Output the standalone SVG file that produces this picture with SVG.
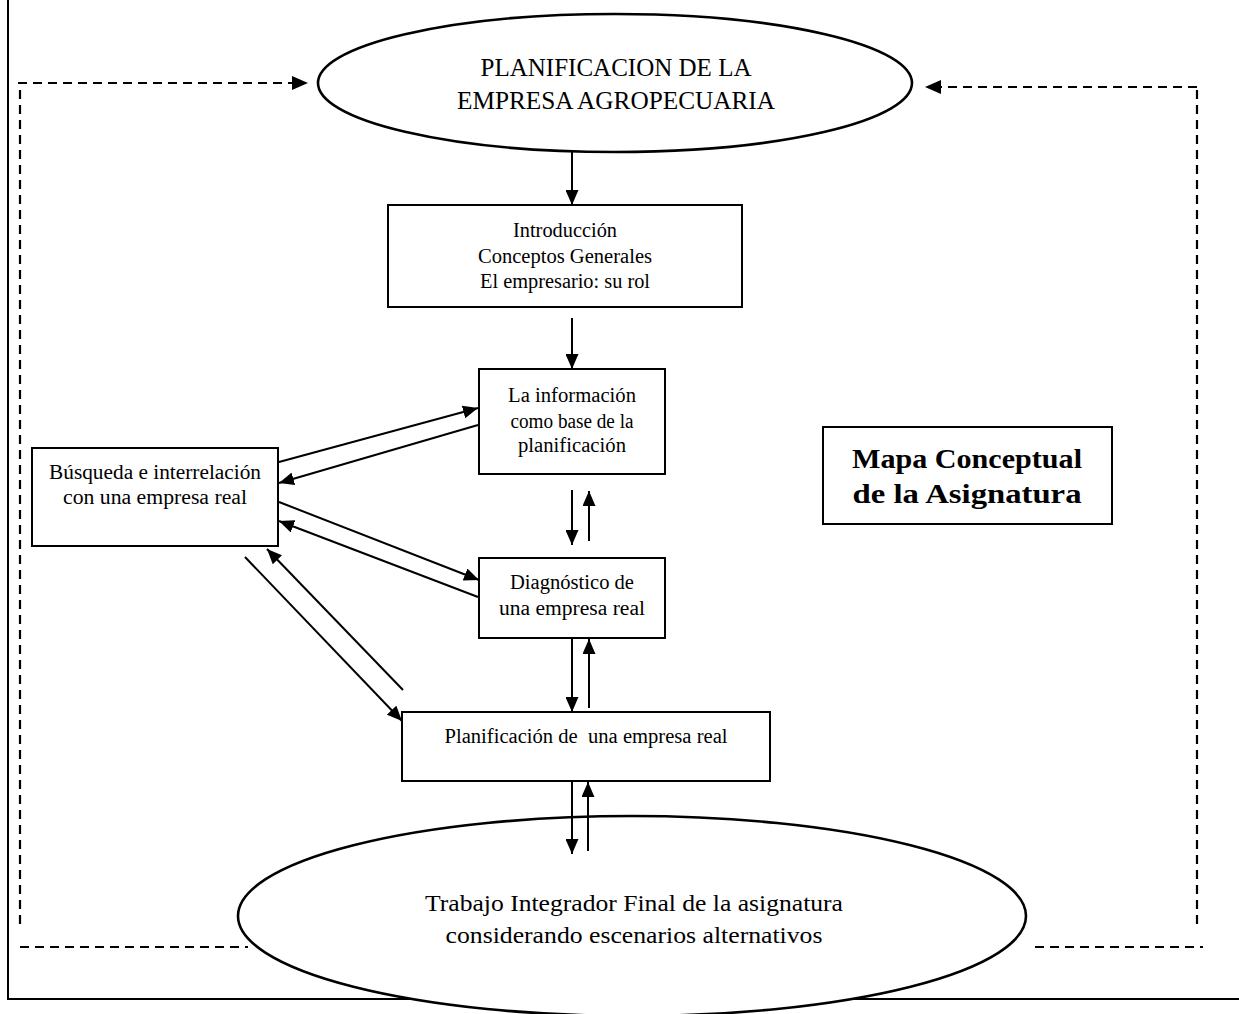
<svg xmlns="http://www.w3.org/2000/svg" width="1239" height="1014" viewBox="0 0 1239 1014">
<style>
.t{font-family:"Liberation Serif","Times New Roman",serif;fill:#000;text-anchor:middle;white-space:pre}
.s{font-size:20px}
.b{font-size:27px;font-weight:bold}
.e{font-size:25px}
.f{font-size:23px}
.box{fill:#fff;stroke:#000;stroke-width:2}
.ell{fill:#fff;stroke:#000;stroke-width:2.6}
.ln{stroke:#000;stroke-width:2;fill:none}
.ds{stroke:#000;stroke-width:2.2;fill:none;stroke-dasharray:9 6}
.fr{stroke:#000;stroke-width:2;fill:none}
</style>
<defs>
<marker id="ah" markerUnits="userSpaceOnUse" markerWidth="15" markerHeight="13" refX="15" refY="6.5" orient="auto">
<path d="M0,0 L15,6.5 L0,13 z" fill="#000"/>
</marker>
</defs>
<rect width="1239" height="1014" fill="#fff"/>
<g id="frame">
<path class="fr" d="M8,0 V999 H1239"/>
</g>
<g id="connectors">
<path class="ds" d="M18,83 H296" />
<path d="M292,76 L308,83 L292,90 z" fill="#000"/>
<path class="ds" d="M20,90 V928"/>
<path class="ds" d="M20,947 H248"/>
<path class="ds" d="M1197,87 H938"/>
<path d="M941,80 L925,87 L941,94 z" fill="#000"/>
<path class="ds" d="M1197,90 V928"/>
<path class="ds" d="M1035,947 H1203"/>
<line class="ln" x1="572" y1="152" x2="572" y2="205" marker-end="url(#ah)"/>
<line class="ln" x1="572" y1="318" x2="572" y2="369" marker-end="url(#ah)"/>
<line class="ln" x1="279" y1="462" x2="478" y2="408" marker-end="url(#ah)"/>
<line class="ln" x1="478" y1="425" x2="279" y2="483" marker-end="url(#ah)"/>
<line class="ln" x1="279" y1="502" x2="479" y2="580" marker-end="url(#ah)"/>
<line class="ln" x1="478" y1="597" x2="279" y2="521" marker-end="url(#ah)"/>
<line class="ln" x1="245" y1="557" x2="402" y2="721" marker-end="url(#ah)"/>
<line class="ln" x1="403" y1="690" x2="267" y2="549" marker-end="url(#ah)"/>
<line class="ln" x1="572" y1="490" x2="572" y2="545" marker-end="url(#ah)"/>
<line class="ln" x1="589" y1="541" x2="589" y2="491" marker-end="url(#ah)"/>
<line class="ln" x1="572" y1="638" x2="572" y2="712" marker-end="url(#ah)"/>
<line class="ln" x1="589" y1="708" x2="589" y2="639" marker-end="url(#ah)"/>
</g>
<g id="n_bottom">
<ellipse class="ell" cx="632" cy="916" rx="394" ry="100"/>
<text class="t f" x="634" y="911" textLength="418" lengthAdjust="spacingAndGlyphs">Trabajo Integrador Final de la asignatura</text>
<text class="t f" x="634" y="943" textLength="377" lengthAdjust="spacingAndGlyphs">considerando escenarios alternativos</text>
</g>
<g id="connectors2">
<line class="ln" x1="572" y1="781" x2="572" y2="854" marker-end="url(#ah)"/>
<line class="ln" x1="588" y1="851" x2="588" y2="782" marker-end="url(#ah)"/>
</g>
<g id="n_top">
<ellipse class="ell" cx="615" cy="83" rx="297" ry="69"/>
<text class="t e" x="616" y="76" textLength="271" lengthAdjust="spacingAndGlyphs">PLANIFICACION DE LA</text>
<text class="t e" x="616" y="109" textLength="318" lengthAdjust="spacingAndGlyphs">EMPRESA AGROPECUARIA</text>
</g>
<g id="n_intro">
<rect class="box" x="388" y="205" width="354" height="102"/>
<text class="t s" x="565" y="237" textLength="104" lengthAdjust="spacingAndGlyphs">Introducción</text>
<text class="t s" x="565" y="263" textLength="174" lengthAdjust="spacingAndGlyphs">Conceptos Generales</text>
<text class="t s" x="565" y="288" textLength="170" lengthAdjust="spacingAndGlyphs">El empresario: su rol</text>
</g>
<g id="n_info">
<rect class="box" x="479" y="369" width="186" height="105"/>
<text class="t s" x="572" y="402" textLength="128" lengthAdjust="spacingAndGlyphs">La información</text>
<text class="t s" x="572" y="428" textLength="123" lengthAdjust="spacingAndGlyphs">como base de la</text>
<text class="t s" x="572" y="452" textLength="108" lengthAdjust="spacingAndGlyphs">planificación</text>
</g>
<g id="n_busqueda">
<rect class="box" x="32" y="448" width="246" height="98"/>
<text class="t s" x="155" y="479" textLength="212" lengthAdjust="spacingAndGlyphs">Búsqueda e interrelación</text>
<text class="t s" x="155" y="504" textLength="184" lengthAdjust="spacingAndGlyphs">con una empresa real</text>
</g>
<g id="n_diag">
<rect class="box" x="479" y="558" width="186" height="80"/>
<text class="t s" x="572" y="589" textLength="124" lengthAdjust="spacingAndGlyphs">Diagnóstico de</text>
<text class="t s" x="572" y="615" textLength="146" lengthAdjust="spacingAndGlyphs">una empresa real</text>
</g>
<g id="n_plan">
<rect class="box" x="402" y="712" width="368" height="69"/>
<text class="t s" x="586" y="743" textLength="283" lengthAdjust="spacingAndGlyphs">Planificación de  una empresa real</text>
</g>
<g id="n_mapa">
<rect class="box" x="823" y="427" width="289" height="97"/>
<text class="t b" x="967" y="468" textLength="230" lengthAdjust="spacingAndGlyphs">Mapa Conceptual</text>
<text class="t b" x="967" y="503" textLength="229" lengthAdjust="spacingAndGlyphs">de la Asignatura</text>
</g>
</svg>
